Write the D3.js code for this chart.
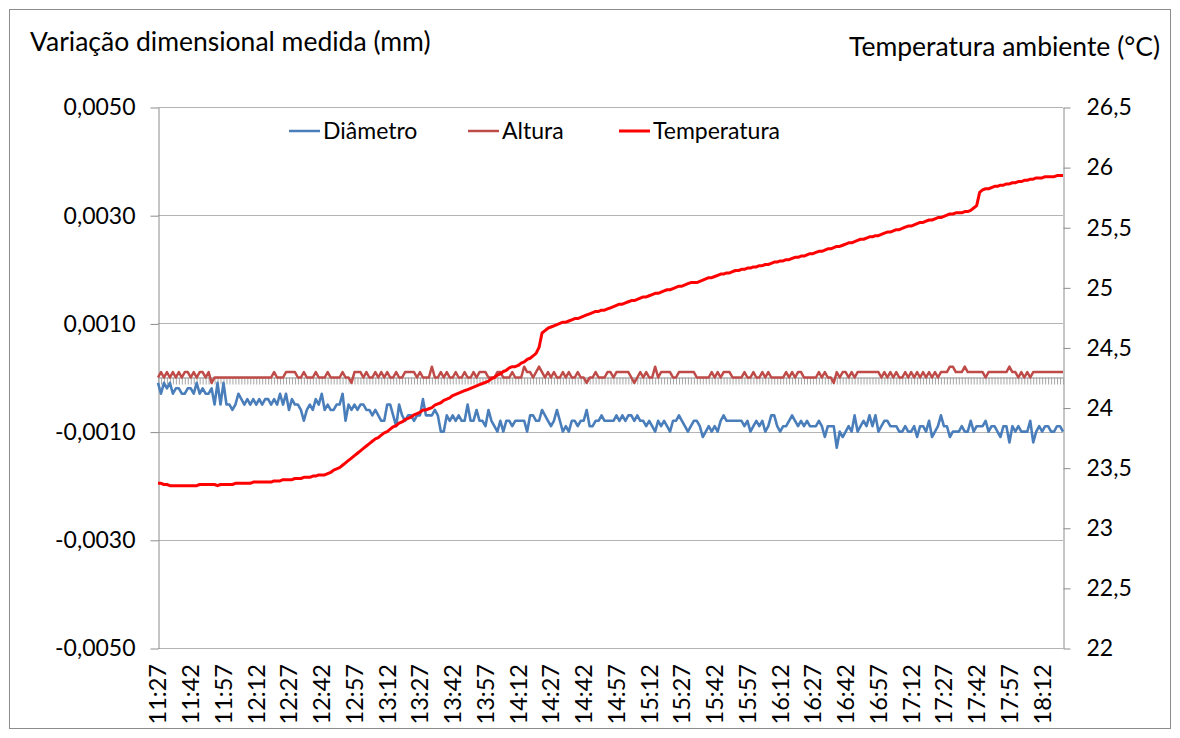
<!DOCTYPE html>
<html><head><meta charset="utf-8">
<script src="https://cdn.jsdelivr.net/npm/d3@7"></script>
<style>
html,body{margin:0;padding:0;background:#fff;}
svg{display:block;font-family:Lato,"Open Sans",sans-serif;}
</style></head><body>
<svg id="chart" width="1180" height="738"></svg>
<script>
// ---- data ----
const timeLabels = ["11:27","11:42","11:57","12:12","12:27","12:42","12:57","13:12","13:27","13:42",
  "13:57","14:12","14:27","14:42","14:57","15:12","15:27","15:42","15:57","16:12",
  "16:27","16:42","16:57","17:12","17:27","17:42","17:57","18:12"];
const labelEvery = 11;

const diametro = [
-0.0001,-0.0003,-0.0001,-0.0002,-0.0001,-0.0003,-0.0002,-0.0002,-0.0003,-0.0003,
-0.0002,-0.0002,-0.0003,-0.0001,-0.0003,-0.0002,-0.0003,-0.0003,-0.0002,-0.0005,
-0.0001,-0.0005,-0.0001,-0.0005,-0.0005,-0.0006,-0.0005,-0.0003,-0.0004,-0.0005,
-0.0004,-0.0005,-0.0004,-0.0005,-0.0004,-0.0005,-0.0004,-0.0004,-0.0005,-0.0004,
-0.0005,-0.0003,-0.0005,-0.0003,-0.0006,-0.0004,-0.0005,-0.0005,-0.0006,-0.0008,
-0.0006,-0.0005,-0.0006,-0.0004,-0.0005,-0.0003,-0.0006,-0.0005,-0.0006,-0.0006,
-0.0005,-0.0005,-0.0003,-0.0008,-0.0005,-0.0006,-0.0005,-0.0006,-0.0005,-0.0005,
-0.0006,-0.0006,-0.0007,-0.0006,-0.0007,-0.0008,-0.0008,-0.0005,-0.0005,-0.0007,
-0.0009,-0.0005,-0.0007,-0.0008,-0.0007,-0.0007,-0.0008,-0.0007,-0.0007,-0.0004,
-0.0007,-0.0007,-0.0007,-0.0006,-0.0007,-0.0010,-0.0010,-0.0007,-0.0008,-0.0007,
-0.0008,-0.0007,-0.0008,-0.0008,-0.0005,-0.0008,-0.0008,-0.0006,-0.0008,-0.0008,
-0.0009,-0.0006,-0.0008,-0.0009,-0.0010,-0.0008,-0.0010,-0.0008,-0.0008,-0.0009,
-0.0008,-0.0008,-0.0008,-0.0008,-0.0010,-0.0007,-0.0007,-0.0008,-0.0008,-0.0006,
-0.0007,-0.0008,-0.0009,-0.0008,-0.0006,-0.0008,-0.0010,-0.0009,-0.0010,-0.0008,
-0.0008,-0.0009,-0.0008,-0.0008,-0.0006,-0.0009,-0.0009,-0.0008,-0.0008,-0.0007,
-0.0008,-0.0008,-0.0008,-0.0008,-0.0007,-0.0008,-0.0007,-0.0008,-0.0007,-0.0007,
-0.0008,-0.0007,-0.0008,-0.0008,-0.0009,-0.0008,-0.0009,-0.0010,-0.0008,-0.0009,
-0.0008,-0.0009,-0.0010,-0.0008,-0.0008,-0.0007,-0.0008,-0.0009,-0.0010,-0.0009,
-0.0008,-0.0008,-0.0009,-0.0011,-0.0010,-0.0009,-0.0010,-0.0009,-0.0010,-0.0008,
-0.0007,-0.0008,-0.0008,-0.0008,-0.0008,-0.0008,-0.0008,-0.0009,-0.0008,-0.0010,
-0.0009,-0.0008,-0.0009,-0.0008,-0.0010,-0.0009,-0.0007,-0.0007,-0.0009,-0.0010,
-0.0009,-0.0009,-0.0008,-0.0007,-0.0008,-0.0009,-0.0008,-0.0009,-0.0008,-0.0009,
-0.0009,-0.0009,-0.0008,-0.0009,-0.0011,-0.0009,-0.0009,-0.0009,-0.0013,-0.0010,
-0.0011,-0.0010,-0.0009,-0.0010,-0.0007,-0.0010,-0.0009,-0.0008,-0.0009,-0.0007,
-0.0009,-0.0007,-0.0010,-0.0009,-0.0008,-0.0008,-0.0009,-0.0009,-0.0009,-0.0010,
-0.0010,-0.0009,-0.0010,-0.0010,-0.0009,-0.0011,-0.0009,-0.0009,-0.0010,-0.0008,
-0.0011,-0.0010,-0.0009,-0.0007,-0.0009,-0.0009,-0.0011,-0.0010,-0.0010,-0.0010,
-0.0009,-0.0010,-0.0010,-0.0008,-0.0010,-0.0009,-0.0009,-0.0009,-0.0008,-0.0010,
-0.0009,-0.0009,-0.0010,-0.0011,-0.0009,-0.0009,-0.0012,-0.0009,-0.0010,-0.0009,
-0.0010,-0.0010,-0.0010,-0.0008,-0.0012,-0.0010,-0.0009,-0.0010,-0.0009,-0.0009,
-0.0010,-0.0010,-0.0009,-0.0009,-0.0010];

const altura = [
0,0.0001,0,0.0001,0,0.0001,0,0.0001,0,0.0001,
0.0001,0,0.0001,0,0.0001,0.0001,0,0.0001,-0.0001,0,
0,0,0,0,0,0,0,0,0,0,
0,0,0,0,0,0,0,0,0,0.0001,
0,0,0,0.0001,0.0001,0.0001,0.0001,0,0,0.0001,
0,0,0,0.0001,0,0,0,0.0001,0,0,
0,0,0.0001,0,0,-0.0001,0.0001,0.0001,0.0001,0,
0.0001,0,0,0.0001,0,0.0001,0,0.0001,0,0,
0.0001,0,0,0.0001,0.0001,0.0001,0.0001,0,0.0001,0,
0,0,0.0002,0,0,0.0001,0,0.0001,0,0,
0.0001,0,0,0.0001,0,0,0.0001,0,0.0001,0.0001,
0.0001,0,0,0,0.0001,0.0001,0,0,0,0.0001,
0,0,0,0.0002,0.0001,0.0001,0,0.0001,0.0002,0.0001,
0,0.0001,0,0.0001,0,0,0.0001,0,0.0001,0,
0,0.0001,0,0,-0.0001,0,0,0.0001,0,0,
0,0.0001,0.0001,0,0.0001,0.0001,0.0001,0.0001,0.0001,0,
-0.0001,0,0.0001,0,0.0001,0,0,0.0002,0,0.0001,
0.0001,0.0001,0.0001,0,0,0.0001,0.0001,0.0001,0.0001,0.0001,
0.0001,0,0,0,0,0,0.0001,0,0.0001,0,
0.0001,0.0001,0.0001,0,0,0,0,0.0001,0,0,
0.0001,0,0,0.0001,0,0.0001,0,0,0,0,
0,0.0001,0,0.0001,0,0.0001,0.0001,0,0,0,
0,0,0.0001,0,0.0001,0,0,-0.0001,0.0001,0,
0.0001,0.0001,0,0.0001,0,0.0001,0.0001,0.0001,0.0001,0.0001,
0.0001,0.0001,0.0001,0,0.0001,0,0.0001,0,0.0001,0,
0,0.0001,0,0.0001,0,0.0001,0,0.0001,0,0.0001,
0,0.0001,0,0.0001,0.0001,0.0001,0.0002,0.0002,0.0001,0.0001,
0.0001,0.0002,0.0001,0.0001,0.0001,0.0001,0.0001,0.0001,0,0.0001,
0.0001,0.0001,0.0001,0.0001,0.0001,0.0001,0.0002,0.0001,0.0001,0,
0.0001,0,0.0001,0,0.0001,0.0001,0.0001,0.0001,0.0001,0.0001,
0.0001,0.0001,0.0001,0.0001,0.0001];

const temperatura = [
23.37,23.37,23.36,23.36,23.35,23.35,23.35,23.35,23.35,23.35,
23.35,23.35,23.35,23.35,23.36,23.36,23.36,23.36,23.36,23.36,
23.35,23.36,23.36,23.36,23.36,23.36,23.37,23.37,23.37,23.37,
23.37,23.37,23.38,23.38,23.38,23.38,23.38,23.38,23.38,23.39,
23.39,23.39,23.40,23.40,23.40,23.40,23.41,23.41,23.41,23.42,
23.42,23.42,23.43,23.43,23.44,23.44,23.44,23.45,23.46,23.48,
23.49,23.50,23.52,23.54,23.56,23.58,23.60,23.62,23.64,23.66,
23.68,23.70,23.72,23.74,23.75,23.77,23.79,23.80,23.82,23.84,
23.85,23.87,23.88,23.90,23.91,23.92,23.94,23.95,23.96,23.98,
23.98,23.99,24.00,24.02,24.03,24.04,24.06,24.07,24.08,24.10,
24.11,24.12,24.13,24.14,24.15,24.16,24.17,24.18,24.19,24.20,
24.21,24.22,24.24,24.25,24.27,24.28,24.30,24.31,24.33,24.34,
24.34,24.35,24.37,24.38,24.40,24.41,24.43,24.45,24.50,24.62,
24.64,24.66,24.67,24.68,24.69,24.70,24.71,24.71,24.72,24.73,
24.74,24.74,24.75,24.76,24.77,24.78,24.79,24.80,24.80,24.81,
24.81,24.82,24.83,24.84,24.85,24.86,24.86,24.87,24.88,24.89,
24.89,24.90,24.91,24.92,24.92,24.93,24.94,24.95,24.95,24.96,
24.97,24.98,24.98,24.99,25.00,25.01,25.01,25.02,25.03,25.04,
25.04,25.04,25.05,25.06,25.07,25.08,25.08,25.09,25.10,25.11,
25.11,25.12,25.12,25.13,25.14,25.14,25.15,25.15,25.16,25.16,
25.17,25.17,25.18,25.18,25.19,25.19,25.20,25.21,25.21,25.22,
25.22,25.23,25.23,25.24,25.25,25.25,25.26,25.26,25.27,25.28,
25.28,25.29,25.30,25.30,25.31,25.32,25.32,25.33,25.34,25.34,
25.35,25.36,25.37,25.37,25.38,25.39,25.40,25.40,25.41,25.42,
25.42,25.43,25.43,25.44,25.45,25.46,25.46,25.47,25.48,25.48,
25.49,25.50,25.51,25.51,25.52,25.53,25.54,25.54,25.55,25.56,
25.56,25.57,25.58,25.58,25.59,25.60,25.61,25.61,25.62,25.62,
25.62,25.63,25.63,25.64,25.66,25.68,25.79,25.81,25.82,25.82,
25.83,25.84,25.84,25.85,25.85,25.86,25.86,25.87,25.87,25.88,
25.88,25.89,25.89,25.90,25.90,25.91,25.91,25.91,25.92,25.92,
25.92,25.92,25.93,25.93,25.93];

const leftTicks = [-0.005,-0.003,-0.001,0.001,0.003,0.005];
const rightTicks = [22,22.5,23,23.5,24,24.5,25,25.5,26,26.5];
const seriesNames = ["Diâmetro","Altura","Temperatura"];
const seriesColors = ["#4A7EBB","#BE4B48","#FF0000"];
const leftTitle = "Variação dimensional medida (mm)";
const rightTitle = "Temperatura ambiente (°C)";

// ---- drawing ----
const svg = d3.select("#chart");
const P = {l:158, r:1063, t:107, b:648};
const N = temperatura.length;
const idx = d3.range(N);
const x = d3.scalePoint().domain(idx).range([P.l, P.r]);
const yL = d3.scaleLinear().domain([-0.005, 0.005]).range([P.b, P.t]);
const yR = d3.scaleLinear().domain([22, 26.5]).range([P.b, P.t]);
const loc = d3.formatLocale({decimal:",", thousands:".", grouping:[3], currency:["",""], minus:"-"});
const fL = loc.format(".4f");
const fR = loc.format(".1~f");
const axisGray = "#8c8c8c";
const gridGray = "#b4b4b4";
const FS_TICK = 23, FS_XLAB = 23.5, FS_LEG = 23, FS_TITLE = 26.5;

// chart border
svg.append("rect").attr("x",9.5).attr("y",9.5).attr("width",1161).attr("height",719)
  .attr("fill","none").attr("stroke","#8c8c8c").attr("stroke-width",1);

// gridlines
svg.append("g").selectAll("line").data(leftTicks).join("line")
  .attr("x1",P.l).attr("x2",P.r)
  .attr("y1",d=>Math.round(yL(d))+0.5).attr("y2",d=>Math.round(yL(d))+0.5)
  .attr("stroke",gridGray).attr("stroke-width",1);

// left axis
const gL = svg.append("g").attr("transform",`translate(${P.l+0.5},0.5)`)
  .call(d3.axisLeft(yL).tickValues(leftTicks).tickSize(8).tickSizeOuter(0).tickPadding(15).tickFormat(fL));
// right axis
const gR = svg.append("g").attr("transform",`translate(${P.r+0.5},0.5)`)
  .call(d3.axisRight(yR).tickValues(rightTicks).tickSize(7).tickSizeOuter(0).tickPadding(16).tickFormat(fR));
[gL,gR].forEach(g=>{
  g.select(".domain").attr("stroke",axisGray);
  g.selectAll(".tick line").attr("stroke",axisGray);
  g.selectAll("text").attr("fill","#000").style("font-size",FS_TICK+"px").style("font-family","Lato");
});

// category axis crossing at zero
const gX = svg.append("g").attr("transform",`translate(0,${yL(0)})`)
  .call(d3.axisBottom(x).tickValues(idx).tickSize(7).tickSizeOuter(0).tickFormat(""));
gX.select(".domain").attr("stroke",axisGray);
gX.selectAll(".tick line").attr("stroke","#a6a6a6");

// category labels at the bottom
svg.append("g").selectAll("text").data(timeLabels).join("text")
  .attr("transform",(d,k)=>`translate(${x(k*labelEvery)},664) rotate(-90)`)
  .attr("text-anchor","end").attr("dy","0.36em")
  .style("font-size",FS_XLAB+"px").attr("fill","#000").text(d=>d);

// series
const lineL = d3.line().x((d,i)=>x(i)).y(d=>yL(d));
const lineR = d3.line().x((d,i)=>x(i)).y(d=>yR(d));
svg.append("path").datum(diametro).attr("d",lineL).attr("fill","none")
  .attr("stroke",seriesColors[0]).attr("stroke-width",2.6).attr("stroke-linejoin","round");
svg.append("path").datum(altura).attr("d",lineL).attr("fill","none")
  .attr("stroke",seriesColors[1]).attr("stroke-width",2.5).attr("stroke-linejoin","round");
svg.append("path").datum(temperatura).attr("d",lineR).attr("fill","none")
  .attr("stroke",seriesColors[2]).attr("stroke-width",3).attr("stroke-linejoin","round");

// legend
const legX = [289, 468, 619];
const leg = svg.append("g").selectAll("g").data(seriesNames).join("g")
  .attr("transform",(d,i)=>`translate(${legX[i]},131)`);
leg.append("line").attr("x1",0).attr("x2",31).attr("y1",0).attr("y2",0)
  .attr("stroke",(d,i)=>seriesColors[i]).attr("stroke-width",(d,i)=>i===2?3:2.5);
leg.append("text").attr("x",34).attr("dy","0.36em").style("font-size",FS_LEG+"px")
  .attr("fill","#000").text(d=>d);

// axis titles
svg.append("text").attr("x",30).attr("y",51).style("font-size",FS_TITLE+"px").attr("fill","#000").text(leftTitle);
svg.append("text").attr("x",1160).attr("y",56).attr("text-anchor","end").style("font-size",FS_TITLE+"px").attr("fill","#000").text(rightTitle);
</script>
</body></html>
